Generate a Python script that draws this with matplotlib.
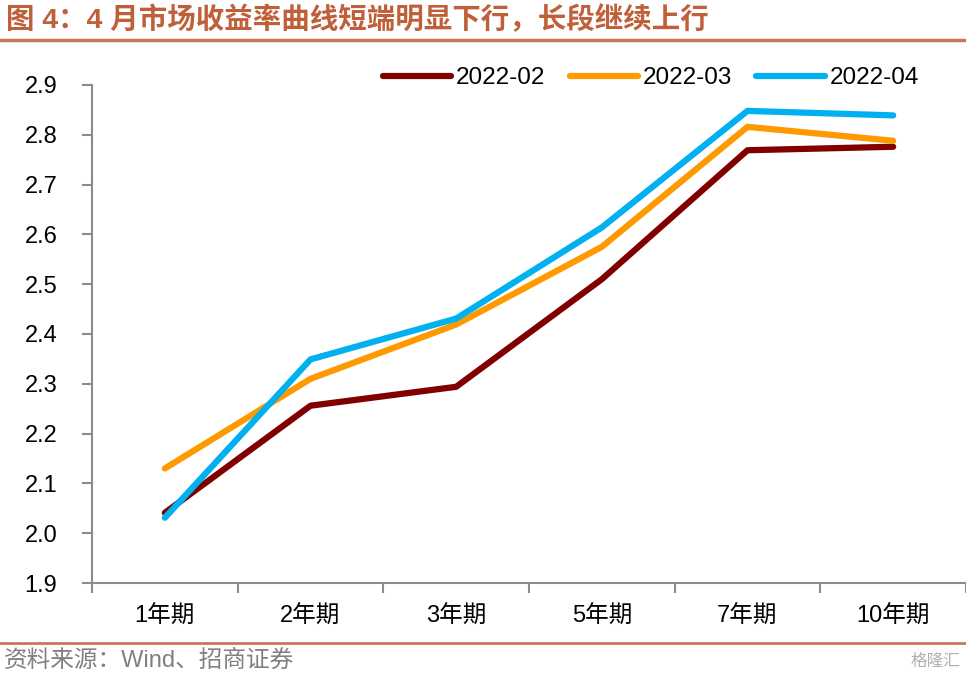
import matplotlib
matplotlib.use("Agg")
import matplotlib.pyplot as plt
import numpy as np
from matplotlib.lines import Line2D

# data
categories = ["1年期", "2年期", "3年期", "5年期", "7年期", "10年期"]
series_names = ["2022-02", "2022-03", "2022-04"]
feb = [2.041, 2.256, 2.294, 2.510, 2.769, 2.776]
mar = [2.130, 2.310, 2.419, 2.575, 2.816, 2.788]
apr = [2.031, 2.349, 2.431, 2.614, 2.848, 2.839]
yticks = [1.9, 2.0, 2.1, 2.2, 2.3, 2.4, 2.5, 2.6, 2.7, 2.8, 2.9]

colors = ["#800000", "#FF9900", "#00B0F0"]
cjk = ["Liberation Sans", "Noto Sans CJK SC"]
plt.rcParams['font.family'] = cjk

fig = plt.figure(figsize=(9.66, 6.78), dpi=100)
ax = fig.add_axes([92 / 966, 1 - 583 / 678, 1 - 92 / 966, (583 - 85) / 678])

x = np.arange(len(categories))
for vals, c, name in zip([feb, mar, apr], colors, series_names):
    ax.plot(x, vals, color=c, lw=4.5, solid_capstyle="round", label=name)

ax.set_xlim(-0.5, len(categories) - 0.5)
ax.set_ylim(1.9, 2.9)
ax.set_yticks(yticks)
ax.set_yticklabels([f"{v:.1f}" for v in yticks], fontsize=17, fontfamily="Liberation Sans")

# category labels between the boundary ticks
ax.set_xticks(np.arange(-0.5, len(categories) + 0.5, 1.0))
ax.set_xticklabels([])
ax.set_xticks(x, minor=True)
ax.set_xticklabels(categories, minor=True, fontsize=17)
ax.tick_params(axis="x", which="minor", length=0, pad=16)
ax.tick_params(axis="x", which="major", length=7, width=1.5, color="#8c8c8c", direction="out")
ax.tick_params(axis="y", length=7, width=1.5, color="#8c8c8c", direction="out", pad=18)

for s in ["top", "right"]:
    ax.spines[s].set_visible(False)
for s in ["left", "bottom"]:
    ax.spines[s].set_color("#8c8c8c")
    ax.spines[s].set_linewidth(1.5)

handles = [Line2D([0], [0], color=c, lw=4.5, solid_capstyle="round") for c in colors]
fig.legend(handles, series_names, loc="center", bbox_to_anchor=(651 / 966, 1 - 78 / 678),
           ncol=3, frameon=False, handlelength=2.8, handletextpad=0.2,
           columnspacing=1.0, prop={"family": "Liberation Sans", "size": 17.5})

# title and footer
fig.text(6 / 966, 1 - 20 / 678, "图 4：4 月市场收益率曲线短端明显下行，长段继续上行",
         fontsize=20.5, fontweight="bold", color="#C0603A", va="center", ha="left")
fig.add_artist(Line2D([0, 1], [1 - 40 / 678] * 2, color="#C87858", lw=2.5))
fig.add_artist(Line2D([0, 1], [1 - 643 / 678] * 2, color="#C87858", lw=2))
fig.text(4 / 966, 1 - 661 / 678, "资料来源：Wind、招商证券", fontsize=17,
         color="#808080", va="center", ha="left")
fig.text(960 / 966, 1 - 661 / 678, "格隆汇", fontsize=12, color="#b0b0b0",
         va="center", ha="right")

fig.savefig("out.png", dpi=100)
